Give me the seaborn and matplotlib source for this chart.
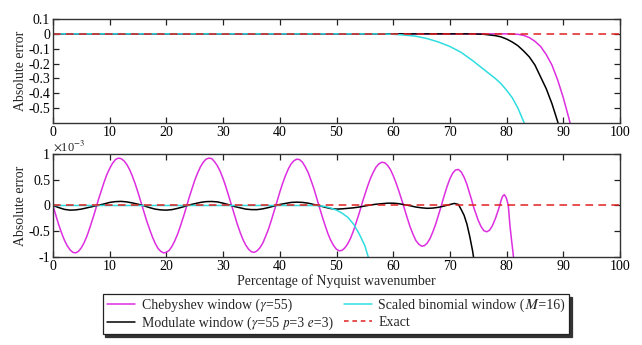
import numpy as np
import matplotlib
matplotlib.use("Agg")
import matplotlib.pyplot as plt
import seaborn as sns
from matplotlib.ticker import FuncFormatter
from matplotlib.lines import Line2D
from matplotlib.font_manager import FontProperties

# ---------------- data ----------------
# Top panel (absolute error)
top_cheb_x = [0, 20, 40, 60, 80, 82, 83, 84, 85, 86, 87, 88, 89, 90, 91, 91.5]
top_cheb_y = [0, 0, 0, 0, 0, -0.003, -0.01, -0.025, -0.05, -0.085, -0.14, -0.21, -0.31, -0.43, -0.57, -0.65]

top_mod_x = [0, 20, 40, 60, 74, 76, 78, 79, 80, 81, 82, 83, 84, 85, 86, 87, 88, 89, 89.5]
top_mod_y = [0, 0, 0, 0, 0, -0.003, -0.012, -0.02, -0.035, -0.055, -0.08, -0.115, -0.155, -0.21,
             -0.29, -0.37, -0.47, -0.59, -0.66]

top_bin_x = [0, 20, 40, 58, 60, 62, 64, 66, 68, 70, 72, 74, 76, 78, 79, 80, 81, 82, 83, 83.5]
top_bin_y = [0, 0, 0, 0, -0.003, -0.008, -0.016, -0.032, -0.055, -0.085, -0.125, -0.18, -0.24,
             -0.30, -0.335, -0.38, -0.43, -0.50, -0.59, -0.64]

# Bottom panel (absolute error, in units of 1e-3)
bot_cheb_x = [0, 0.5, 1, 1.5, 2, 2.5, 3, 3.5, 4, 4.5, 5, 5.5, 6, 6.5, 7, 7.2, 7.7,
              8, 8.5, 9, 9.5, 10, 10.5, 11, 11.5, 12, 12.5, 13, 13.5, 14, 14.5, 15, 15.3, 15.7,
              16, 16.5, 17, 17.5, 18, 18.5, 19, 19.5, 20, 20.5, 21, 21.5, 22, 22.5, 23, 23.2, 23.6,
              24, 24.5, 25, 25.5, 26, 26.5, 27, 27.5, 28, 28.5, 29, 29.5, 30, 30.5, 31, 31.2, 31.5,
              32, 32.5, 33, 33.5, 34, 34.5, 35, 35.5, 36, 36.5, 37, 37.5, 38, 38.5, 39, 39.3,
              39.7, 40, 40.5, 41, 41.5, 42, 42.5, 43, 43.5, 44, 44.5, 45, 45.5, 46, 46.5, 46.9,
              47, 47.5, 48, 48.5, 49, 49.5, 50, 50.5, 51, 51.5, 52, 52.5, 53, 53.5, 54, 54.4,
              54.7, 55, 55.5, 56, 56.5, 57, 57.5, 58, 58.5, 59, 59.5, 60, 60.5, 61, 61.5, 61.8,
              62, 62.5, 63, 63.5, 64, 64.5, 65, 65.5, 66, 66.5, 67, 67.5, 68, 68.2, 68.5,
              68.8, 69, 69.5, 70, 70.5, 71, 71.5, 72, 72.5, 73, 73.5, 73.8, 74.1,
              74.3, 74.5, 75, 75.5, 76, 76.5, 77, 77.5, 78, 78.5, 78.8,
              79.0, 79.3, 79.6, 79.9, 80.1, 80.3, 80.6, 80.9, 81.1, 81.3, 81.6]
bot_cheb_y = [0, -0.19, -0.37, -0.53, -0.67, -0.78, -0.86, -0.91, -0.92, -0.89, -0.82, -0.72, -0.59, -0.43, -0.26, -0.19, 0,
              0.11, 0.28, 0.45, 0.60, 0.72, 0.82, 0.89, 0.92, 0.91, 0.87, 0.80, 0.70, 0.57, 0.42, 0.25, 0.14, 0,
              -0.11, -0.29, -0.45, -0.60, -0.73, -0.83, -0.89, -0.92, -0.91, -0.87, -0.79, -0.68, -0.55, -0.39, -0.22, -0.15, 0,
              0.15, 0.32, 0.49, 0.63, 0.75, 0.84, 0.90, 0.92, 0.91, 0.85, 0.77, 0.66, 0.52, 0.36, 0.18, 0.11, 0,
              -0.18, -0.36, -0.52, -0.66, -0.77, -0.85, -0.90, -0.91, -0.88, -0.82, -0.73, -0.60, -0.46, -0.29, -0.11, 0,
              0.15, 0.26, 0.43, 0.58, 0.71, 0.81, 0.87, 0.90, 0.89, 0.84, 0.75, 0.64, 0.49, 0.33, 0.15, 0,
              -0.04, -0.22, -0.39, -0.55, -0.68, -0.78, -0.85, -0.88, -0.87, -0.82, -0.74, -0.63, -0.49, -0.32, -0.15, 0,
              0.11, 0.21, 0.38, 0.53, 0.65, 0.75, 0.81, 0.84, 0.83, 0.78, 0.70, 0.58, 0.44, 0.28, 0.11, 0,
              -0.07, -0.25, -0.42, -0.56, -0.68, -0.75, -0.79, -0.78, -0.73, -0.64, -0.51, -0.36, -0.18, -0.11, 0,
              0.12, 0.19, 0.37, 0.52, 0.63, 0.69, 0.70, 0.65, 0.55, 0.41, 0.23, 0.12, 0,
              -0.07, -0.13, -0.29, -0.41, -0.49, -0.51, -0.48, -0.39, -0.26, -0.10, 0,
              0.09, 0.18, 0.21, 0.16, 0.09, 0, -0.4, -0.7, -0.88, -1.1, -1.5]

bot_mod_x = [0, 1, 2, 3, 4, 5, 6, 7, 8, 9, 10, 11, 12, 13, 14, 15, 16, 17, 18, 19, 20, 21, 22, 23,
             24, 25, 26, 27, 28, 29, 30, 31, 32, 33, 34, 35, 36, 37, 38, 39, 40, 41, 42, 43, 44,
             45, 46, 47, 48, 49, 50, 51, 52, 53, 54, 55, 56, 57, 58, 59, 60, 61, 62, 63, 64, 65,
             66, 67, 68, 69, 70, 70.8, 71.5, 72, 72.5, 73, 73.5, 74, 74.3, 74.6]
bot_mod_y = [0, -0.04, -0.075, -0.09, -0.085, -0.07, -0.045, -0.02, 0.005, 0.03, 0.06, 0.075, 0.08,
             0.07, 0.05, 0.025, -0.005, -0.04, -0.07, -0.085, -0.09, -0.08, -0.055, -0.025, 0.01,
             0.035, 0.06, 0.075, 0.078, 0.07, 0.045, 0.015, -0.02, -0.045, -0.07, -0.08, -0.08,
             -0.065, -0.04, -0.01, 0.02, 0.04, 0.06, 0.065, 0.06, 0.045, 0.02, -0.005, -0.035,
             -0.06, -0.07, -0.065, -0.055, -0.045, -0.03, -0.01, 0.01, 0.025, 0.035, 0.045, 0.045,
             0.035, 0.015, -0.005, -0.03, -0.045, -0.055, -0.05, -0.035, -0.01, 0.02, 0.04, 0.02,
             -0.08, -0.19, -0.36, -0.6, -0.88, -1.1, -1.5]

bot_bin_x = [0, 20, 40, 46, 47, 48, 49, 50, 51, 52, 53, 54, 55, 55.6, 56]
bot_bin_y = [0, 0, 0, 0, -0.005, -0.02, -0.05, -0.09, -0.15, -0.23, -0.36, -0.55, -0.78, -1.0, -1.2]

exact_x = [0, 100]
exact_y = [0, 0]

labels = ["Chebyshev window (\U0001D6FE=55)",
          "Modulate window (\U0001D6FE=55 \U0001D45D=3 \U0001D452=3)",
          "Scaled binomial window (\U0001D440=16)",
          "Exact"]
xticks = [0, 10, 20, 30, 40, 50, 60, 70, 80, 90, 100]
top_yticks = [0.1, 0, -0.1, -0.2, -0.3, -0.4, -0.5]
bot_yticks = [1, 0.5, 0, -0.5, -1]

# ---------------- style ----------------
sns.set_theme(style="ticks")
plt.rcParams["font.family"] = ["Liberation Serif"]
plt.rcParams["mathtext.fontset"] = "stix"
plt.rcParams["font.size"] = 10

MAG = "#dd2ee0"
CYA = "#2fdde0"
BLK = "#000000"
RED = "#e02020"
LW = 1.1

fig = plt.figure(figsize=(6.42, 3.45), dpi=100)
ax1 = fig.add_axes([53/642, 1-123/345, 567/642, 104/345])
ax2 = fig.add_axes([53/642, 1-257/345, 567/642, 103/345])

fmt = FuncFormatter(lambda v, p: "%g" % round(v, 6))

def draw(ax, cx, cy, mx, my, bx, by):
    sns.lineplot(x=cx, y=cy, ax=ax, color=MAG, lw=LW, estimator=None, sort=False)
    sns.lineplot(x=mx, y=my, ax=ax, color=BLK, lw=LW, estimator=None, sort=False)
    sns.lineplot(x=bx, y=by, ax=ax, color=CYA, lw=LW, estimator=None, sort=False)
    sns.lineplot(x=exact_x, y=exact_y, ax=ax, color=RED, lw=LW, estimator=None, sort=False)
    ax.lines[-1].set_dashes((5, 3.5))

draw(ax1, top_cheb_x, top_cheb_y, top_mod_x, top_mod_y, top_bin_x, top_bin_y)
draw(ax2, bot_cheb_x, bot_cheb_y, bot_mod_x, bot_mod_y, bot_bin_x, bot_bin_y)

ax1.set_ylim(-0.6, 0.1)
ax2.set_ylim(-1, 1)
ax1.set_yticks(top_yticks)
ax2.set_yticks(bot_yticks)
for ax in (ax1, ax2):
    ax.set_xlim(0, 100)
    ax.set_xticks(xticks)
    ax.xaxis.set_major_formatter(fmt)
    ax.yaxis.set_major_formatter(fmt)
    ax.tick_params(direction="in", top=True, right=True, length=4, width=0.9,
                   labelsize=10, pad=2, colors="#222222", labelcolor="black")
    for s in ax.spines.values():
        s.set_color("#333333")
        s.set_linewidth(1.0)
        s.set_visible(True)
    ax.set_ylabel("Absolute error", fontsize=10, labelpad=1)
    ax.set_xlabel("")
    ax.grid(False)

ax2.set_xlabel("Percentage of Nyquist wavenumber", fontsize=10, labelpad=1)
ax2.text(0.0, 1.005, r"$\times$10$^{-3}$", transform=ax2.transAxes, ha="left", va="bottom",
         fontsize=9)

handles = [Line2D([], [], color=MAG, lw=LW),
           Line2D([], [], color=BLK, lw=LW),
           Line2D([], [], color=CYA, lw=LW),
           Line2D([], [], color=RED, lw=LW, dashes=(3, 2.5))]
legprop = FontProperties(family=["Liberation Serif", "STIXGeneral", "DejaVu Serif"], size=10)
leg = fig.legend(handles, labels, ncol=2, loc="center", bbox_to_anchor=(336/642, 1-314/345),
                 prop=legprop, frameon=True, fancybox=False, shadow={"color": "#333333", "alpha": 1},
                 borderpad=0.3, labelspacing=0.3, handlelength=2.0, handletextpad=0.5,
                 columnspacing=0.8, borderaxespad=0)
leg.get_frame().set_edgecolor("#222222")
leg.get_frame().set_linewidth(0.9)

fig.savefig("out.png", dpi=100)
